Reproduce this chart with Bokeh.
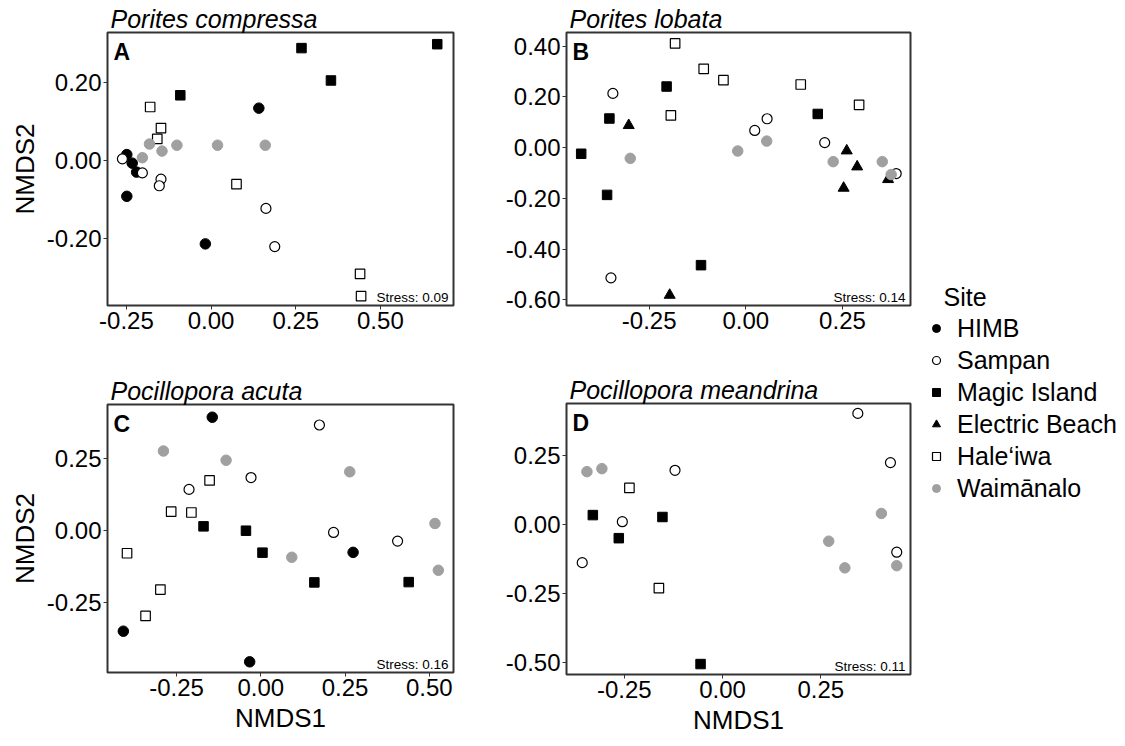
from bokeh.plotting import figure
from bokeh.models import (Range1d, FixedTicker, PrintfTickFormatter, Label,
                          Legend, LegendItem)
from bokeh.layouts import row, column
from bokeh.embed import file_html
from bokeh.resources import INLINE

FONT = "Liberation Sans"
NAN = float("nan")

SITES = ["HIMB", "Sampan", "Magic Island", "Electric Beach", "Hale‘iwa", "Waimānalo"]

# ---- Panel A: Porites compressa ----
A_site = (["HIMB"] * 6 + ["Sampan"] * 6 + ["Magic Island"] * 4 +
          ["Hale‘iwa"] * 6 + ["Waimānalo"] * 6)
A_x = [0.141, -0.249, -0.233, -0.220, -0.249, -0.017,
       -0.262, -0.203, -0.148, -0.153, 0.162, 0.188,
       0.267, 0.668, 0.354, -0.091,
       -0.180, -0.148, -0.159, 0.075, 0.440, 0.443,
       -0.203, -0.182, -0.145, -0.101, 0.019, 0.160]
A_y = [0.133, 0.014, -0.008, -0.031, -0.093, -0.215,
       0.003, -0.033, -0.049, -0.066, -0.124, -0.222,
       0.287, 0.297, 0.204, 0.166,
       0.136, 0.082, 0.054, -0.062, -0.292, -0.349,
       0.006, 0.041, 0.023, 0.038, 0.038, 0.038]

# ---- Panel B: Porites lobata ----
B_site = (["Hale‘iwa"] * 6 + ["Magic Island"] * 6 + ["Sampan"] * 6 +
          ["Electric Beach"] * 6 + ["Waimānalo"] * 6)
B_x = [-0.183, -0.109, -0.058, 0.142, 0.293, -0.194,
       -0.205, -0.353, -0.426, -0.359, -0.116, 0.186,
       -0.344, 0.023, 0.055, 0.204, 0.389, -0.349,
       -0.303, 0.261, 0.288, 0.253, 0.368, -0.197,
       -0.299, -0.021, 0.054, 0.226, 0.353, 0.376]
B_y = [0.411, 0.311, 0.266, 0.249, 0.169, 0.127,
       0.241, 0.115, -0.024, -0.186, -0.463, 0.133,
       0.214, 0.068, 0.114, 0.020, -0.102, -0.513,
       0.088, -0.012, -0.075, -0.159, -0.125, -0.581,
       -0.042, -0.013, 0.026, -0.055, -0.055, -0.106]

# ---- Panel C: Pocillopora acuta ----
C_site = (["HIMB"] * 4 + ["Sampan"] * 5 + ["Magic Island"] * 5 +
          ["Hale‘iwa"] * 6 + ["Waimānalo"] * 6)
C_x = [-0.144, 0.274, -0.408, -0.033,
       0.174, -0.029, -0.213, 0.216, 0.406,
       -0.170, -0.044, 0.005, 0.159, 0.439,
       -0.152, -0.266, -0.206, -0.397, -0.298, -0.342,
       -0.289, -0.103, 0.264, 0.092, 0.517, 0.527]
C_y = [0.392, -0.076, -0.349, -0.455,
       0.365, 0.183, 0.142, -0.007, -0.037,
       0.014, -0.001, -0.077, -0.180, -0.179,
       0.173, 0.065, 0.062, -0.079, -0.205, -0.296,
       0.275, 0.243, 0.203, -0.093, 0.024, -0.138]

# ---- Panel D: Pocillopora meandrina ----
D_site = (["Sampan"] * 6 + ["Waimānalo"] * 6 + ["Magic Island"] * 4 +
          ["Hale‘iwa"] * 2)
D_x = [0.344, 0.427, -0.121, -0.255, -0.357, 0.443,
       -0.345, -0.307, 0.404, 0.270, 0.311, 0.443,
       -0.330, -0.153, -0.264, -0.056,
       -0.237, -0.162]
D_y = [0.405, 0.226, 0.198, 0.011, -0.138, -0.100,
       0.193, 0.204, 0.041, -0.060, -0.157, -0.149,
       0.035, 0.028, -0.049, -0.507,
       0.134, -0.231]

TITLES = ["Porites compressa", "Porites lobata", "Pocillopora acuta", "Pocillopora meandrina"]
LETTERS = ["A", "B", "C", "D"]
STRESS = ["Stress: 0.09", "Stress: 0.14", "Stress: 0.16", "Stress: 0.11"]
XLIMS = [(-0.306, 0.716), (-0.464, 0.426), (-0.455, 0.572), (-0.397, 0.478)]
YLIMS = [(-0.373, 0.327), (-0.622, 0.454), (-0.492, 0.436), (-0.545, 0.441)]
XTICKS = [[-0.25, 0.0, 0.25, 0.5], [-0.25, 0.0, 0.25], [-0.25, 0.0, 0.25, 0.5], [-0.25, 0.0, 0.25]]
YTICKS = [[-0.2, 0.0, 0.2], [-0.6, -0.4, -0.2, 0.0, 0.2, 0.4], [-0.25, 0.0, 0.25], [-0.5, -0.25, 0.0, 0.25]]

STYLE = {
    "HIMB": dict(marker="circle", fill_color="black", line_color="black", size=10.5, line_width=1),
    "Sampan": dict(marker="circle", fill_color="white", line_color="black", size=10, line_width=1.2),
    "Magic Island": dict(marker="square", fill_color="black", line_color="black", size=9.5, line_width=1),
    "Electric Beach": dict(marker="triangle", fill_color="black", line_color="black", size=11, line_width=1),
    "Hale‘iwa": dict(marker="square", fill_color="white", line_color="black", size=9.5, line_width=1.2),
    "Waimānalo": dict(marker="circle", fill_color="#A0A0A0", line_color="#A0A0A0", size=10.5, line_width=1),
}


def panel(i, sites, xs, ys, w, h, borders, xlabel, ylabel):
    bl, br, bt, bb = borders
    p = figure(width=w, height=h, x_range=Range1d(*XLIMS[i]), y_range=Range1d(*YLIMS[i]),
               output_backend="svg", toolbar_location=None,
               min_border_left=bl, min_border_right=br, min_border_top=bt, min_border_bottom=bb)
    p.title.text = TITLES[i]
    p.title.text_font = FONT
    p.title.text_font_style = "italic"
    p.title.text_font_size = "25px"
    p.title.text_color = "black"
    p.title.align = "left"
    p.title.offset = 3
    p.title.standoff = 0
    p.xgrid.visible = False
    p.ygrid.visible = False
    p.background_fill_color = "white"
    p.border_fill_color = "white"
    p.outline_line_color = "#333333"
    p.outline_line_width = 2
    for ax, ticks in ((p.xaxis, XTICKS[i]), (p.yaxis, YTICKS[i])):
        ax.ticker = FixedTicker(ticks=ticks)
        ax.formatter = PrintfTickFormatter(format="%.2f")
        ax.axis_line_color = None
        ax.major_tick_line_color = "#333333"
        ax.major_tick_out = 4
        ax.major_tick_in = 0
        ax.minor_tick_line_color = None
        ax.major_label_standoff = 2
        ax.major_label_text_font = FONT
        ax.major_label_text_font_size = "24px"
        ax.major_label_text_color = "black"
        ax.axis_label_text_font = FONT
        ax.axis_label_text_font_size = "26px"
        ax.axis_label_text_font_style = "normal"
        ax.axis_label_text_color = "black"
        ax.axis_label_standoff = 4
    p.xaxis.axis_label = xlabel
    p.yaxis.axis_label = ylabel
    for s in SITES:
        px = [x for x, ss in zip(xs, sites) if ss == s]
        py = [y for y, ss in zip(ys, sites) if ss == s]
        if px:
            p.scatter(px, py, **STYLE[s])
    xl, yl = XLIMS[i], YLIMS[i]
    p.add_layout(Label(x=xl[0], y=yl[1], text=LETTERS[i], x_offset=6, y_offset=-6,
                       text_baseline="top", text_font=FONT, text_font_style="bold",
                       text_font_size="23px", text_color="black"))
    p.add_layout(Label(x=xl[1], y=yl[0], text=STRESS[i], x_offset=-5, y_offset=1,
                       text_align="right", text_baseline="bottom", text_font=FONT,
                       text_font_size="13.5px", text_color="black"))
    return p


pa = panel(0, A_site, A_x, A_y, 460, 370, (107, 7, 32, 65), None, "NMDS2")
pb = panel(1, B_site, B_x, B_y, 458, 370, (106, 8, 32, 65), None, None)
pc = panel(2, C_site, C_x, C_y, 460, 368, (107, 7, 34, 66), "NMDS1", "NMDS2")
pd = panel(3, D_site, D_x, D_y, 458, 368, (106, 8, 33, 64), "NMDS1", None)

# ---- Legend panel ----
LW, LH = 199, 738
lf = figure(width=LW, height=LH, x_range=Range1d(0, LW), y_range=Range1d(0, LH),
            output_backend="svg", toolbar_location=None, x_axis_type=None, y_axis_type=None,
            min_border=0, min_border_left=0, min_border_right=0, min_border_top=0, min_border_bottom=0)
lf.outline_line_color = None
lf.xgrid.visible = False
lf.ygrid.visible = False
items = []
for s in SITES:
    r = lf.scatter(x=[NAN], y=[NAN], **STYLE[s])
    items.append(LegendItem(label=s, renderers=[r]))
leg = Legend(items=items, location=(8, 234), padding=6, spacing=0,
             glyph_width=20, glyph_height=32, label_height=32, label_standoff=11,
             label_text_font=FONT, label_text_font_size="25px", label_text_color="black",
             border_line_color=None, background_fill_alpha=0)
lf.add_layout(leg)
lf.add_layout(Label(x=25, y=442, text="Site", text_baseline="middle", text_font=FONT,
                    text_font_size="25px", text_color="black"))

layout = row(column(pa, pc), column(pb, pd), lf)
open("out.html", "w").write(file_html(layout, INLINE))
